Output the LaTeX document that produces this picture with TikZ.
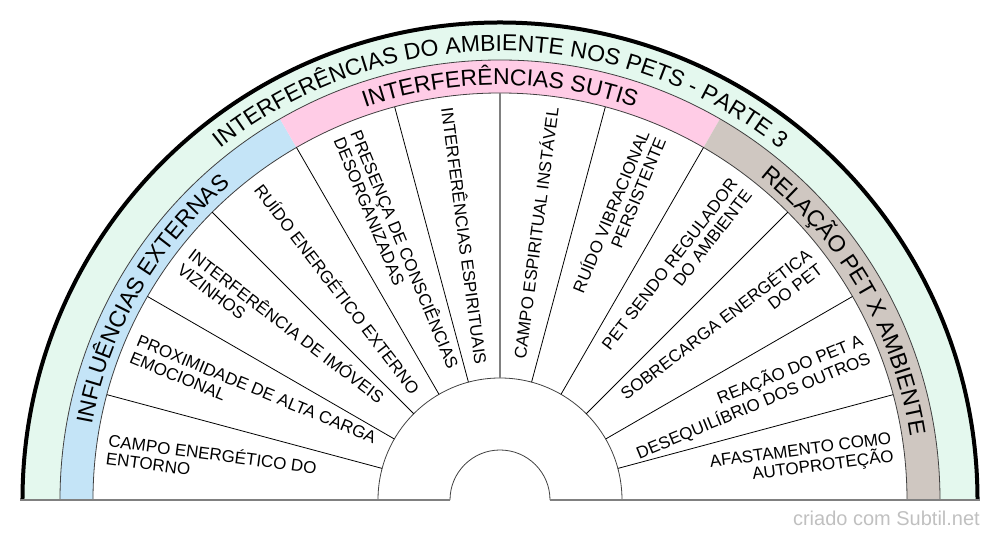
\documentclass[tikz,border=0pt]{standalone}
\usepackage{fontspec}
\setmainfont{Liberation Sans}
\usetikzlibrary{decorations.text}
\definecolor{ringgreen}{HTML}{E4F8EE}
\definecolor{bandblue}{HTML}{C4E4F7}
\definecolor{bandpink}{HTML}{FFCCE6}
\definecolor{bandtaupe}{HTML}{CFC7C1}
\definecolor{edgegray}{HTML}{404040}
\definecolor{midgray}{HTML}{808080}
\definecolor{markgray}{HTML}{C0C0C0}
\newcommand\bandfont{\fontsize{23}{23}\selectfont}
\begin{document}
\begin{tikzpicture}[x=1pt,y=1pt,
  slicelabel/.style={inner sep=0pt, font=\fontsize{17}{18}\selectfont},
  leftlabel/.style={slicelabel, anchor=west, align=left},
  rightlabel/.style={slicelabel, anchor=east, align=right},
  thinedge/.style={draw=edgegray, line width=0.8pt},
  spoke/.style={draw=black, line width=0.8pt},
  centerspoke/.style={draw=midgray, line width=1.6pt},
  baseedge/.style={draw=midgray, line width=2pt},
  rim/.style={draw=black, line width=4pt}
]
\useasboundingbox (-500,-40) rectangle (500,500);
% outer ring
\fill[ringgreen] (0:478) arc[start angle=0,end angle=180,radius=478] -- (180:440) arc[start angle=180,end angle=0,radius=440] -- cycle;
% category bands
\fill[bandblue] (180:440) arc[start angle=180,end angle=120,radius=440] -- (120:407) arc[start angle=120,end angle=180,radius=407] -- cycle;
\fill[bandpink] (120:440) arc[start angle=120,end angle=60,radius=440] -- (60:407) arc[start angle=60,end angle=120,radius=407] -- cycle;
\fill[bandtaupe] (60:440) arc[start angle=60,end angle=0,radius=440] -- (0:407) arc[start angle=0,end angle=60,radius=407] -- cycle;
% ring edges
\draw[thinedge] (180:440) arc[start angle=180,end angle=0,radius=440];
\draw[thinedge] (180:407) arc[start angle=180,end angle=0,radius=407];
\draw[thinedge] (180:122) arc[start angle=180,end angle=0,radius=122];
\draw[thinedge] (180:50) arc[start angle=180,end angle=0,radius=50];
% spokes
\foreach \a in {15,30,45,60,75,105,120,135,150,165}
  \draw[spoke] (\a:122) -- (\a:407);
\draw[centerspoke] (90:122) -- (90:407);
% rim and base
\draw[rim] (180:477.5) arc[start angle=180,end angle=0,radius=477.5];
\draw[baseedge] (-479.5,0) -- (-50,0);
\draw[baseedge] (50,0) -- (479.5,0);
% curved titles
\path[decorate, decoration={text along path, text align=center,
  text={|\bandfont|INTERFERÊNCIAS DO AMBIENTE NOS PETS - PARTE 3}}]
  (180:449) arc[start angle=180,end angle=0,radius=449];
\path[decorate, decoration={text along path, text align=center,
  text={|\bandfont|INFLUÊNCIAS EXTERNAS}}]
  (180:415) arc[start angle=180,end angle=120,radius=415];
\path[decorate, decoration={text along path, text align=center,
  text={|\bandfont|INTERFERÊNCIAS SUTIS}}]
  (120:415) arc[start angle=120,end angle=60,radius=415];
\path[decorate, decoration={text along path, text align=center,
  text={|\bandfont|RELAÇÃO PET X AMBIENTE}}]
  (60:415) arc[start angle=60,end angle=0,radius=415];
% slice labels
\node[leftlabel, rotate=-7.5]  (s1) at (172.5:396) {CAMPO ENERGÉTICO DO\\ENTORNO};
\node[leftlabel, rotate=-22.5] (s2) at (157.5:396) {PROXIMIDADE DE ALTA CARGA\\EMOCIONAL};
\node[leftlabel, rotate=-37.5] (s3) at (142.5:396) {INTERFERÊNCIA DE IMÓVEIS\\VIZINHOS};
\node[leftlabel, rotate=-52.5] (s4) at (127.5:396) {RUÍDO ENERGÉTICO EXTERNO};
\node[leftlabel, rotate=-67.5] (s5) at (112.5:396) {PRESENÇA DE CONSCIÊNCIAS\\DESORGANIZADAS};
\node[leftlabel, rotate=-82.5] (s6) at (97.5:396) {INTERFERÊNCIAS ESPIRITUAIS};
\node[rightlabel, rotate=82.5] (s7) at (82.5:396) {CAMPO ESPIRITUAL INSTÁVEL};
\node[rightlabel, rotate=67.5] (s8) at (67.5:396) {RUÍDO VIBRACIONAL\\PERSISTENTE};
\node[rightlabel, rotate=52.5] (s9) at (52.5:396) {PET SENDO REGULADOR\\DO AMBIENTE};
\node[rightlabel, rotate=37.5] (s10) at (37.5:396) {SOBRECARGA ENERGÉTICA\\DO PET};
\node[rightlabel, rotate=22.5] (s11) at (22.5:396) {REAÇÃO DO PET A\\DESEQUILÍBRIO DOS OUTROS};
\node[rightlabel, rotate=7.5]  (s12) at (7.5:396) {AFASTAMENTO COMO\\AUTOPROTEÇÃO};
% watermark
\node[anchor=base east, inner sep=0pt, text=markgray, font=\fontsize{20}{20}\selectfont] (mark) at (480,-25.5) {criado com Subtil.net};
\end{tikzpicture}
\end{document}
